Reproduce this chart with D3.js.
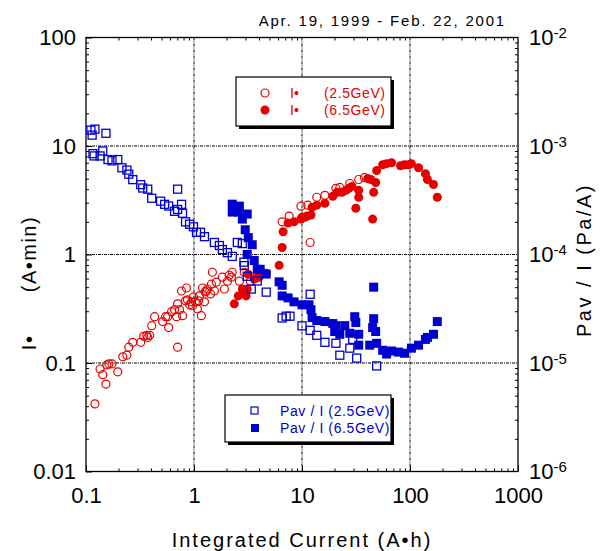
<!DOCTYPE html>
<html>
<head>
<meta charset="utf-8">
<script src="https://cdn.jsdelivr.net/npm/d3@7"></script>
<style>
  body { margin: 0; background: #fff; }
  svg { font-family: "Liberation Sans", Arial, Helvetica, sans-serif; }
</style>
</head>
<body>
<svg id="chart"></svg>
<script>
// I-tau (A.min) vs integrated current (A.h), 2.5GeV operation
const tauLow = [
  [0.121,0.042],[0.135,0.088],[0.143,0.078],[0.153,0.064],[0.156,0.096],[0.163,0.098],[0.174,0.098],
  [0.197,0.083],[0.219,0.114],[0.239,0.118],[0.249,0.14],[0.271,0.155],[0.321,0.155],[0.342,0.176],
  [0.365,0.18],[0.373,0.172],[0.389,0.18],[0.406,0.221],[0.432,0.267],[0.512,0.241],[0.546,0.267],
  [0.570,0.267],[0.582,0.212],[0.620,0.297],[0.661,0.31],[0.689,0.267],[0.705,0.351],[0.735,0.31],
  [0.783,0.273],[0.767,0.461],[0.852,0.491],[0.835,0.374],[0.870,0.382],[0.910,0.344],[0.948,0.366],
  [0.989,0.406],[1.03,0.366],[1.076,0.316],[1.10,0.374],[1.17,0.273],[1.12,0.415],[1.20,0.491],
  [1.27,0.452],[1.33,0.481],[0.705,0.14],[1.48,0.686],[2.26,0.686],[2.12,0.644],[1.83,0.618],
  [1.61,0.556],[1.45,0.533],[1.30,0.461],[1.545,0.461],[1.91,0.481],[2.04,0.568],[2.63,0.568],
  [2.92,0.686],[1.42,0.433],[0.97,0.337],[1.25,0.366],[2.22,0.618],[3.33,0.568],[6.55,2.0],
  [7.60,2.26],[9.79,2.79],[11.3,2.85],[11.9,1.29],[13.7,3.37],[16.3,3.51],[20.6,4.07],[22.4,4.15],
  [27.7,4.51],[33.5,4.91],[37.9,5.12]
]

// I-tau, 6.5GeV operation
const tauHigh = [
  [2.36,0.351],[2.57,0.415],[2.80,0.481],[2.92,0.452],[3.04,0.415],[3.11,0.481],[3.18,0.658],
  [3.61,0.593],[3.77,0.605],[4.02,0.618],[4.10,0.686],[4.66,0.672],[6.14,0.794],[6.55,1.16],
  [6.69,1.62],[7.43,1.95],[8.44,2.0],[9.79,2.12],[10.0,2.21],[10.7,2.21],[11.1,2.26],[12.1,2.31],
  [12.4,2.73],[13.7,2.85],[16.3,2.97],[19.3,3.44],[21.1,3.74],[23.4,3.74],[25.5,3.9],[27.2,4.07],
  [29.0,4.24],[31.5,2.67],[33.5,3.9],[33.5,3.37],[40.6,5.01],[43.3,4.91],[46.1,3.74],[48.1,4.61],
  [45.1,2.12],[49.1,5.93],[55.8,6.72],[60.7,6.87],[67.5,7.01],[81.7,6.58],[88.9,6.72],[96.7,6.72],
  [103,6.87],[120,6.31],[139,5.56],[145,4.91],[165,4.42],[179,3.37]
]

// Pav/I (Pa/A), 2.5GeV
const pavLow = [
  [0.111,1.40e-3],[0.121,1.43e-3],[0.114,1.26e-3],[0.153,1.31e-3],[0.116,8.5e-4],[0.119,8.1e-4],
  [0.143,9.0e-4],[0.135,8.1e-4],[0.160,7.5e-4],[0.174,7.3e-4],[0.197,7.5e-4],[0.215,6.3e-4],
  [0.239,6.0e-4],[0.249,5.5e-4],[0.271,4.9e-4],[0.321,4.4e-4],[0.335,4.1e-4],[0.373,4.0e-4],
  [0.406,3.3e-4],[0.491,3.1e-4],[0.535,2.9e-4],[0.582,2.8e-4],[0.705,4.0e-4],[0.767,2.9e-4],
  [0.705,2.6e-4],[0.661,2.5e-4],[0.783,2.4e-4],[0.835,2.0e-4],[0.910,1.9e-4],[0.989,1.8e-4],
  [1.055,1.6e-4],[1.148,1.6e-4],[1.25,1.46e-4],[1.545,1.29e-4],[1.718,1.21e-4],[1.832,1.11e-4],
  [2.04,1.04e-4],[2.26,9.6e-5],[2.52,1.29e-4],[2.80,1.26e-4],[2.9,8.5e-5],[2.92,7.9e-5],
  [3.11,6.3e-5],[3.39,4.8e-5],[3.85,5.7e-5],[4.66,4.5e-5],[11.9,4.3e-5],[6.55,2.6e-5],[7.13,2.7e-5],
  [7.75,2.7e-5],[10.0,2.2e-5],[11.9,2.0e-5],[13.7,1.8e-5],[16.3,1.55e-5],[20.6,1.52e-5],
  [22.4,1.18e-5],[27.7,1.37e-5],[29.5,1.65e-5],[32.1,1.11e-5],[49.1,9.4e-6]
]

// Pav/I, 6.5GeV
const pavHigh = [
  [2.26,2.91e-4],[2.63,2.79e-4],[2.26,2.46e-4],[2.57,2.46e-4],[3.11,2.36e-4],[2.80,2.12e-4],
  [2.98,1.69e-4],[3.18,1.43e-4],[3.46,1.23e-4],[3.11,1.0e-4],[3.61,8.8e-5],[3.85,7.3e-5],
  [4.10,7.3e-5],[4.66,6.6e-5],[6.14,5.6e-5],[6.55,5.2e-5],[6.55,4.15e-5],[7.43,3.98e-5],
  [8.44,3.66e-5],[10.0,3.44e-5],[11.6,3.44e-5],[12.1,3.1e-5],[12.4,2.62e-5],[13.7,2.46e-5],
  [16.3,2.41e-5],[19.3,2.31e-5],[20.6,2.21e-5],[20.1,1.95e-5],[22.4,1.84e-5],[24.9,2.21e-5],
  [27.7,1.88e-5],[30.8,2.67e-5],[31.5,2.36e-5],[33.5,1.84e-5],[33.5,1.46e-5],[42.4,1.46e-5],
  [49.1,1.52e-5],[46.1,5.0e-5],[46.1,2.56e-5],[45.1,2.12e-5],[48.1,1.95e-5],[55.8,1.31e-5],
  [60.7,1.21e-5],[67.5,1.29e-5],[78.3,1.26e-5],[88.9,1.23e-5],[103,1.37e-5],[120,1.46e-5],
  [139,1.65e-5],[145,1.72e-5],[165,1.84e-5],[179,2.41e-5]
]

const xTicks = [0.1, 1, 10, 100, 1000]
const xTickLabels = ['0.1', '1', '10', '100', '1000']
const yLeftTicks = [0.01, 0.1, 1, 10, 100]
const yLeftLabels = ['0.01', '0.1', '1', '10', '100']
const yRightTicks = [1e-6, 1e-5, 1e-4, 1e-3, 1e-2]
const yRightExps = ['-6', '-5', '-4', '-3', '-2']

const red = '#e60000'
const blue = '#0000d0'

const width = 613, height = 551
const margin = { top: 37.5, right: 95, bottom: 79.5, left: 86 }
const innerW = width - margin.left - margin.right
const innerH = height - margin.top - margin.bottom

const svg = d3.select('#chart')
  .attr('width', width)
  .attr('height', height)

const g = svg.append('g')
  .attr('transform', `translate(${margin.left},${margin.top})`)

const x = d3.scaleLog().domain([0.1, 1000]).range([0, innerW])
const yL = d3.scaleLog().domain([0.01, 100]).range([innerH, 0])
const yR = d3.scaleLog().domain([1e-6, 1e-2]).range([innerH, 0])

// minor ticks 2..9 inside every decade
const minorOf = (lo, hi) => {
  const out = []
  for (let d = lo; d < hi; d *= 10)
    for (let k = 2; k <= 9; k++) out.push(d * k)
  return out
}
const xMinor = minorOf(0.1, 1000)
const yLMinor = minorOf(0.01, 100)

// dotted grid at decades
g.append('g').selectAll('line.gx')
  .data(xTicks.slice(1, -1))
  .join('line')
    .attr('x1', d => x(d)).attr('x2', d => x(d))
    .attr('y1', 0).attr('y2', innerH)
    .attr('stroke', '#000').attr('stroke-width', 1)
    .attr('stroke-dasharray', '3,1,1,1')
g.append('g').selectAll('line.gy')
  .data(yLeftTicks.slice(1, -1))
  .join('line')
    .attr('x1', 0).attr('x2', innerW)
    .attr('y1', d => yL(d)).attr('y2', d => yL(d))
    .attr('stroke', '#000').attr('stroke-width', 1)
    .attr('stroke-dasharray', '3,1,1,1')

// axes: minor ticks first, then the labelled majors
const styleAxis = sel => {
  sel.select('.domain').remove()
  sel.selectAll('line').attr('stroke', '#000')
  sel.selectAll('text').attr('font-size', 22).attr('fill', '#000')
}

g.append('g').attr('transform', `translate(0,${innerH})`)
  .call(d3.axisBottom(x).tickValues(xMinor).tickSize(-3).tickFormat(''))
  .call(styleAxis)
g.append('g').attr('transform', `translate(0,${innerH})`)
  .call(d3.axisBottom(x).tickValues(xTicks).tickSize(-6).tickPadding(16)
    .tickFormat((d, i) => xTickLabels[i]))
  .call(styleAxis)
g.append('g')
  .call(d3.axisTop(x).tickValues(xMinor).tickSize(-3).tickFormat(''))
  .call(styleAxis)
g.append('g')
  .call(d3.axisLeft(yL).tickValues(yLMinor).tickSize(-3).tickFormat(''))
  .call(styleAxis)
g.append('g')
  .call(d3.axisLeft(yL).tickValues(yLeftTicks).tickSize(-6).tickPadding(10)
    .tickFormat((d, i) => yLeftLabels[i]))
  .call(styleAxis)
g.append('g').attr('transform', `translate(${innerW},0)`)
  .call(d3.axisRight(yL).tickValues(yLMinor).tickSize(-3).tickFormat(''))
  .call(styleAxis)

// right axis labels as 10^n
const rLab = g.append('g').selectAll('text')
  .data(yRightTicks)
  .join('text')
    .attr('x', innerW + 11)
    .attr('y', d => yR(d))
    .attr('dy', '0.35em')
    .attr('font-size', 22)
rLab.append('tspan').text('10')
rLab.append('tspan').attr('dy', '-0.45em').attr('font-size', 15)
  .text((d, i) => yRightExps[i])

// frame
g.append('rect')
  .attr('width', innerW).attr('height', innerH)
  .attr('fill', 'none').attr('stroke', '#000').attr('stroke-width', 1.3)

// marks
g.append('g').selectAll('circle')
  .data(tauLow)
  .join('circle')
    .attr('cx', d => x(d[0])).attr('cy', d => yL(d[1])).attr('r', 4)
    .attr('fill', 'none').attr('stroke', red).attr('stroke-width', 1.2)

g.append('g').selectAll('circle')
  .data(tauHigh)
  .join('circle')
    .attr('cx', d => x(d[0])).attr('cy', d => yL(d[1])).attr('r', 4.5)
    .attr('fill', red)

g.append('g').selectAll('rect')
  .data(pavLow)
  .join('rect')
    .attr('x', d => x(d[0]) - 4).attr('y', d => yR(d[1]) - 4)
    .attr('width', 8).attr('height', 8)
    .attr('fill', 'none').attr('stroke', blue).attr('stroke-width', 1.3)

g.append('g').selectAll('rect')
  .data(pavHigh)
  .join('rect')
    .attr('x', d => x(d[0]) - 4.5).attr('y', d => yR(d[1]) - 4.5)
    .attr('width', 9).attr('height', 9)
    .attr('fill', blue)

// legends with drop shadow
const legend = (x0, y0, w, h) => {
  svg.append('rect').attr('x', x0 + 3).attr('y', y0 + 3).attr('width', w).attr('height', h)
    .attr('fill', '#000')
  svg.append('rect').attr('x', x0).attr('y', y0).attr('width', w).attr('height', h)
    .attr('fill', '#fff').attr('stroke', '#000').attr('stroke-width', 1.2)
}

legend(236, 77, 155, 49)
svg.append('circle').attr('cx', 265).attr('cy', 93).attr('r', 4)
  .attr('fill', 'none').attr('stroke', red).attr('stroke-width', 1.2)
svg.append('circle').attr('cx', 265).attr('cy', 110).attr('r', 4.5).attr('fill', red)
const redRows = [['I•', '(2.5GeV)', 93], ['I•', '(6.5GeV)', 110]]
redRows.forEach(r => {
  svg.append('text').attr('x', 290).attr('y', r[2]).attr('dy', '0.35em')
    .attr('font-size', 14).attr('fill', red).text(r[0])
  svg.append('text').attr('x', 324).attr('y', r[2]).attr('dy', '0.35em')
    .attr('font-size', 14).attr('fill', red).attr('letter-spacing', 0.6).text(r[1])
})

legend(225, 395, 166, 47)
svg.append('rect').attr('x', 251).attr('y', 407).attr('width', 7).attr('height', 7)
  .attr('fill', 'none').attr('stroke', blue).attr('stroke-width', 1.2)
svg.append('rect').attr('x', 251).attr('y', 424).attr('width', 8).attr('height', 8)
  .attr('fill', blue)
const blueRows = [['Pav / I (2.5GeV)', 411], ['Pav / I (6.5GeV)', 428]]
blueRows.forEach(r => {
  svg.append('text').attr('x', 280).attr('y', r[1]).attr('dy', '0.35em')
    .attr('font-size', 14).attr('fill', blue).attr('letter-spacing', 0.6).text(r[0])
})

// titles
svg.append('text')
  .attr('x', 506).attr('y', 26)
  .attr('text-anchor', 'end').attr('font-size', 15).attr('letter-spacing', 1.8)
  .text('Apr. 19, 1999 - Feb. 22, 2001')

svg.append('text')
  .attr('x', margin.left + innerW / 2).attr('y', 547)
  .attr('text-anchor', 'middle').attr('font-size', 20).attr('letter-spacing', 2)
  .text('Integrated Current (A•h)')

svg.append('text')
  .attr('transform', 'translate(36,283) rotate(-90)')
  .attr('text-anchor', 'middle').attr('font-size', 20).attr('letter-spacing', 1.5)
  .style('white-space', 'pre')
  .text('I•      (A•min)')

svg.append('text')
  .attr('transform', 'translate(591,260) rotate(-90)')
  .attr('text-anchor', 'middle').attr('font-size', 20).attr('letter-spacing', 2.5)
  .text('Pav / I (Pa/A)')
</script>
</body>
</html>
